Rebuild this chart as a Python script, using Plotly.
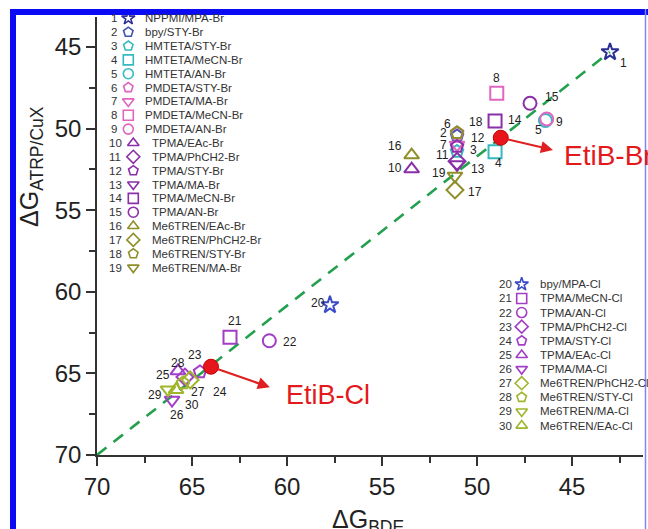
import plotly.graph_objects as go

# ---------------- data ----------------
ids = list(range(1, 31))
names = [
    "NPPMI/MPA-Br", "bpy/STY-Br", "HMTETA/STY-Br", "HMTETA/MeCN-Br", "HMTETA/AN-Br",
    "PMDETA/STY-Br", "PMDETA/MA-Br", "PMDETA/MeCN-Br", "PMDETA/AN-Br", "TPMA/EAc-Br",
    "TPMA/PhCH2-Br", "TPMA/STY-Br", "TPMA/MA-Br", "TPMA/MeCN-Br", "TPMA/AN-Br",
    "Me6TREN/EAc-Br", "Me6TREN/PhCH2-Br", "Me6TREN/STY-Br", "Me6TREN/MA-Br",
    "bpy/MPA-Cl", "TPMA/MeCN-Cl", "TPMA/AN-Cl", "TPMA/PhCH2-Cl", "TPMA/STY-Cl",
    "TPMA/EAc-Cl", "TPMA/MA-Cl", "Me6TREN/PhCH2-Cl", "Me6TREN/STY-Cl",
    "Me6TREN/MA-Cl", "Me6TREN/EAc-Cl",
]
dG_BDE = [43.0, 51.05, 51.05, 49.05, 46.4, 51.05, 51.05, 48.96, 46.33, 53.44,
          51.05, 51.05, 51.05, 49.05, 47.21, 53.44, 51.16, 51.05, 51.16,
          57.74, 63.0, 60.93, 65.37, 64.58, 65.74, 66.05, 65.1, 65.47, 66.26, 65.84]
dG_ATRP = [45.31, 50.45, 51.4, 51.42, 49.5, 50.3, 51.0, 47.84, 49.41, 52.48,
           52.0, 51.1, 52.2, 49.53, 48.45, 51.62, 53.76, 50.25, 52.9,
           60.81, 62.79, 63.0, 65.22, 64.91, 64.85, 66.63, 65.4, 65.59, 66.0, 66.0]

etib_names = ["EtiB-Br", "EtiB-Cl"]
etib_BDE = [48.75, 64.0]
etib_ATRP = [50.56, 64.59]

fit_x = [70, 43.0]
fit_y = [70, 45.3]

x_ticks = [70, 65, 60, 55, 50, 45]
y_ticks = [45, 50, 55, 60, 65, 70]

# ---------------- styles ----------------
symbols = ["star-open", "pentagon-open", "pentagon-open", "square-open", "circle-open",
           "pentagon-open", "triangle-down-open", "square-open", "circle-open", "triangle-up-open",
           "diamond-open", "pentagon-open", "triangle-down-open", "square-open", "circle-open",
           "triangle-up-open", "diamond-open", "pentagon-open", "triangle-down-open",
           "star-open", "square-open", "circle-open", "diamond-open", "pentagon-open",
           "triangle-up-open", "triangle-down-open", "diamond-open", "pentagon-open",
           "triangle-down-open", "triangle-up-open"]
C_STAR = "#2b2f95"; C_BPY = "#3f55b0"; C_CY = "#35b9c0"; C_PK = "#e066c0"
C_PU = "#8a2fa8"; C_OL = "#8f8f2a"; C_STAR2 = "#3a4cc8"; C_PU2 = "#a23dc6"; C_OL2 = "#9fb52a"
colors = [C_STAR, C_BPY, C_CY, C_CY, C_CY, C_PK, C_PK, C_PK, C_PK,
          C_PU, C_PU, C_PU, C_PU, C_PU, C_PU, C_OL, C_OL, C_OL, C_OL,
          C_STAR2, C_PU2, C_PU2, C_PU2, C_PU2, C_PU2, C_PU2, C_OL2, C_OL2, C_OL2, C_OL2]
# label offsets in pixels (dx right, dy down)
label_off = [(13, 11), (-14, -3), (16, -1), (3, 11), (-7, 10), (-10, -10), (-14, 0), (0, -15),
             (13, 3), (-17, -1), (-15, -6), (21, -9), (21, 4), (20, -1), (22, -6), (-17, -9),
             (20, 2), (19, -11), (-16, -3),
             (-12, -2), (5, -16), (21, 1), (10, -22), (20, 20), (-15, 4), (5, 15), (8, 12),
             (-5, -20), (-13, 5), (16, 15)]

# plot area in pixels
L, R, T, B = 97, 643, 17, 455
W, H = 648, 529
def px(x): return (x - L) / (R - L)
def py(y): return (B - y) / (B - T)

fig = go.Figure()

fig.add_trace(go.Scatter(x=fit_x, y=fit_y, mode="lines",
                         line=dict(color="#23a04e", width=2.6, dash="12px,9px"),
                         showlegend=False, hoverinfo="skip", cliponaxis=False))

for i in range(len(ids)):
    fig.add_trace(go.Scatter(x=[dG_BDE[i]], y=[dG_ATRP[i]], mode="markers",
                             marker=dict(symbol=symbols[i], size=13, color=colors[i],
                                         line=dict(width=2, color=colors[i])),
                             name=names[i], showlegend=False, cliponaxis=False))

fig.add_trace(go.Scatter(x=etib_BDE, y=etib_ATRP, mode="markers",
                         marker=dict(symbol="circle", size=15, color="#e6161c",
                                     line=dict(width=1, color="#c00000")),
                         showlegend=False, cliponaxis=False))

# custom legends on pixel overlay axes
br_y = [18.3 + i * 13.85 for i in range(19)]
cl_y = [284.3 + i * 14.13 for i in range(11)]
leg_x = [128.3 if i < 9 else 133.3 for i in range(19)] + [521.7] * 11
leg_y = br_y + cl_y
for i in range(30):
    fig.add_trace(go.Scatter(x=[leg_x[i]], y=[leg_y[i]], xaxis="x2", yaxis="y2", mode="markers",
                             marker=dict(symbol=symbols[i], size=10, color=colors[i],
                                         line=dict(width=1.6, color=colors[i])),
                             showlegend=False, cliponaxis=False, hoverinfo="skip"))

ann = []
for i in range(30):
    if i < 19:
        nx, tx = (109, 143.3) if i < 9 else (107, 150)
    else:
        nx, tx = 496.5, 538.3
    ann.append(dict(x=nx, y=leg_y[i], xref="x2", yref="y2", text=str(ids[i]), showarrow=False,
                    xanchor="left", yanchor="middle", font=dict(size=11.5, color="#333")))
    ann.append(dict(x=tx, y=leg_y[i], xref="x2", yref="y2", text=names[i], showarrow=False,
                    xanchor="left", yanchor="middle", font=dict(size=11.5, color="#333")))

# point number labels
for i in range(30):
    dx, dy = label_off[i]
    ann.append(dict(x=dG_BDE[i], y=dG_ATRP[i], xref="x", yref="y", text=str(ids[i]),
                    showarrow=False, xshift=dx, yshift=-dy,
                    font=dict(size=12, color="#222")))

# EtiB arrows and labels
arrow_head_x = [46.0, 60.9]
arrow_head_y = [51.31, 65.85]
for k in range(2):
    ann.append(dict(x=arrow_head_x[k], y=arrow_head_y[k], xref="x", yref="y",
                    ax=etib_BDE[k], ay=etib_ATRP[k], axref="x", ayref="y", text="",
                    showarrow=True, arrowhead=2, arrowsize=1.1, arrowwidth=2.2,
                    arrowcolor="#e02020", startstandoff=6))
ann.append(dict(x=562, y=155, xref="x2", yref="y2", text=etib_names[0], showarrow=False,
                xanchor="left", yanchor="middle", font=dict(size=28, color="#e3191c")))
ann.append(dict(x=284, y=395, xref="x2", yref="y2", text=etib_names[1], showarrow=False,
                xanchor="left", yanchor="middle", font=dict(size=27, color="#e3191c")))

# axis titles
ann.append(dict(x=px(368), y=py(503), xref="paper", yref="paper",
                text="ΔG<sub>BDE</sub>", showarrow=False, xanchor="center", yanchor="top",
                font=dict(size=25, color="#222")))
ann.append(dict(x=px(31), y=py(167), xref="paper", yref="paper",
                text="ΔG<sub>ATRP/CuX</sub>", showarrow=False, textangle=-90,
                xanchor="center", yanchor="middle", font=dict(size=25, color="#222")))

shapes = [
    dict(type="rect", xref="paper", yref="paper", x0=px(10), x1=px(16), y0=py(9), y1=py(560),
         fillcolor="#0a0af5", line=dict(width=0), layer="above"),
    dict(type="rect", xref="paper", yref="paper", x0=px(10), x1=px(660), y0=py(15), y1=py(9),
         fillcolor="#0a0af5", line=dict(width=0), layer="above"),
    dict(type="line", xref="paper", yref="paper", x0=px(645.5), x1=px(645.5), y0=py(9), y1=py(560),
         line=dict(color="#8585f0", width=1.5), layer="above"),
]

axis_common = dict(showline=True, linecolor="#333", linewidth=1.5, ticks="outside",
                   tickcolor="#333", tickwidth=1.5, showgrid=False, zeroline=False,
                   tickfont=dict(size=24, color="#222", family="Liberation Sans, Arial"))
fig.update_layout(
    width=W, height=H,
    margin=dict(l=L, r=W - R, t=T, b=H - B, pad=0),
    paper_bgcolor="white", plot_bgcolor="white",
    font=dict(family="Liberation Sans, Arial, sans-serif"),
    xaxis=dict(range=[70, 70 - (R - L) / 19.0], tickvals=x_ticks, ticklen=9,
               minor=dict(dtick=2.5, tick0=0, ticks="outside", ticklen=6, tickcolor="#333", tickwidth=1.5),
               **axis_common),
    yaxis=dict(range=[70, 70 - (B - T) / 16.32], tickvals=y_ticks, ticklen=9,
               minor=dict(dtick=2.5, tick0=0, ticks="outside", ticklen=6, tickcolor="#333", tickwidth=1.5),
               **axis_common),
    xaxis2=dict(range=[L, R], overlaying="x", visible=False, fixedrange=True),
    yaxis2=dict(range=[B, T], overlaying="y", visible=False, fixedrange=True),
    annotations=ann, shapes=shapes, showlegend=False,
)

fig.write_html("out.html")
